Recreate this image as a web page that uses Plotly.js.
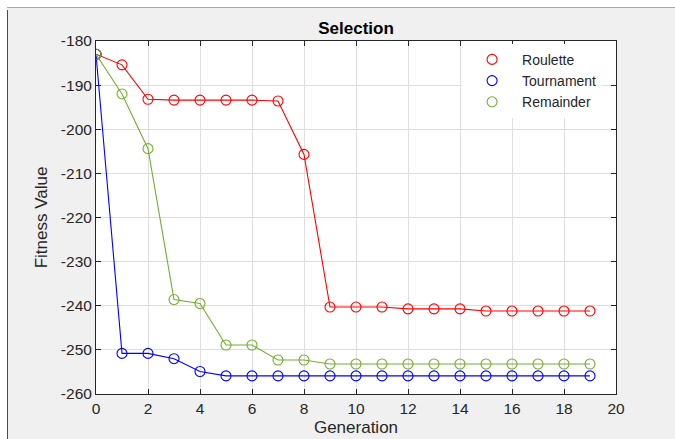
<!DOCTYPE html>
<html>
<head>
<meta charset="utf-8">
<script src="https://cdn.plot.ly/plotly-3.0.1.min.js"></script>
<style>
  html, body { margin: 0; padding: 0; background: #ffffff; }
  #wrap { position: relative; width: 675px; height: 439px; overflow: hidden; }
  #chart { position: absolute; left: 0; top: 0; width: 675px; height: 439px; }
  .edge { position: absolute; pointer-events: none; }
</style>
</head>
<body>
<div id="wrap">
  <div id="chart"></div>
  <!-- window frame edges -->
  <div class="edge" style="left:0;top:0;width:675px;height:7px;background:#ffffff;"></div>
  <div class="edge" style="left:0;top:0;width:7px;height:439px;background:#ffffff;"></div>
  <div class="edge" style="left:7px;top:7px;width:668px;height:1px;background:#a9a9a9;"></div>
  <div class="edge" style="left:7px;top:10px;width:1px;height:429px;background:#4a4a4a;"></div>
</div>
<script>
// Fitness per generation for three selection strategies
const generations = [0,1,2,3,4,5,6,7,8,9,10,11,12,13,14,15,16,17,18,19];
const roulette   = [-183.0,-185.4,-193.2,-193.4,-193.4,-193.4,-193.4,-193.6,-205.7,-240.3,
                    -240.3,-240.3,-240.7,-240.7,-240.7,-241.2,-241.2,-241.2,-241.2,-241.2];
const tournament = [-183.0,-250.8,-250.8,-252.0,-254.9,-255.9,-255.9,-255.9,-255.9,-255.9,
                    -255.9,-255.9,-255.9,-255.9,-255.9,-255.9,-255.9,-255.9,-255.9,-255.9];
const remainder  = [-183.0,-192.0,-204.4,-238.6,-239.5,-248.9,-248.9,-252.3,-252.3,-253.2,
                    -253.2,-253.2,-253.2,-253.2,-253.2,-253.2,-253.2,-253.2,-253.2,-253.2];
const seriesNames  = ['Roulette', 'Tournament', 'Remainder'];
const seriesColors = ['#ff0000', '#0000ff', '#77ac30'];
const xTicks = [0,2,4,6,8,10,12,14,16,18,20];
const yTicks = [-260,-250,-240,-230,-220,-210,-200,-190,-180];

const font = 'Liberation Sans, Arial, sans-serif';
const seriesValues = [roulette, tournament, remainder];

const traces = [];
seriesValues.forEach((vals, i) => {
  traces.push({
    x: generations, y: vals, type: 'scatter', mode: 'lines+markers',
    name: seriesNames[i], showlegend: false,
    line: { color: seriesColors[i], width: 1.1 },
    marker: { symbol: 'circle-open', size: 10, color: seriesColors[i], line: { width: 1.1, color: seriesColors[i] } }
  });
});
// legend entries show the marker only
seriesValues.forEach((vals, i) => {
  traces.push({
    x: [null], y: [null], type: 'scatter', mode: 'markers',
    name: seriesNames[i], showlegend: true,
    marker: { symbol: 'circle-open', size: 10, color: seriesColors[i], line: { width: 1.1, color: seriesColors[i] } }
  });
});

const axisCommon = {
  showline: true, linecolor: '#262626', linewidth: 1, mirror: 'ticks',
  ticks: 'inside', ticklen: 5, tickcolor: '#262626', tickwidth: 1,
  showgrid: true, gridcolor: '#dedede', gridwidth: 1, zeroline: false,
  tickfont: { family: font, size: 15.5, color: '#262626' }
};

const layout = {
  width: 675, height: 439,
  paper_bgcolor: '#f0f0f0', plot_bgcolor: '#ffffff',
  margin: { l: 96, r: 59, t: 41, b: 45 },
  title: {
    text: '<b>Selection</b>', font: { family: font, size: 17, color: '#000000' },
    xref: 'paper', x: 0.5, xanchor: 'center', yref: 'container', y: 1 - 28/439, yanchor: 'middle'
  },
  xaxis: Object.assign({}, axisCommon, {
    range: [0, 20], tickvals: xTicks, ticktext: xTicks.map(String),
    title: { text: 'Generation', font: { family: font, size: 17, color: '#262626' }, standoff: 5 }
  }),
  yaxis: Object.assign({}, axisCommon, {
    range: [-260, -180], tickvals: yTicks, ticktext: yTicks.map(String),
    title: { text: 'Fitness Value', font: { family: font, size: 17, color: '#262626' }, standoff: 8 }
  }),
  legend: {
    x: 0.704, xanchor: 'left', y: 0.992, yanchor: 'top',
    bgcolor: '#ffffff', borderwidth: 0,
    font: { family: font, size: 14, color: '#262626' },
    itemwidth: 50, tracegroupgap: 0
  }
};

Plotly.newPlot('chart', traces, layout, { displayModeBar: false, staticPlot: true });
</script>
</body>
</html>
